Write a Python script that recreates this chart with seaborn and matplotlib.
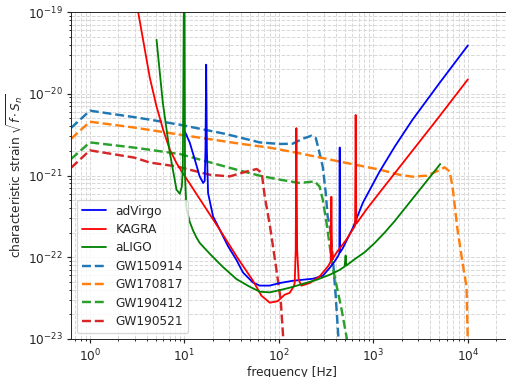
import numpy as np
import pandas as pd
import matplotlib
matplotlib.use("Agg")
import matplotlib.pyplot as plt
import seaborn as sns

# ---------------- data ----------------
advirgo_f = [10.1, 11.4, 12.9, 14.5, 15.8, 16.4, 16.7, 17.0, 17.3, 17.8, 20.1, 23.7, 29.0,
             35.5, 41.7, 53.2, 62.7, 80, 102, 141, 229, 292, 344, 389, 424, 436, 440, 444,
             456, 476, 607, 774, 1164, 1700, 2596, 5000, 10000]
advirgo_h = [3.46e-21, 2.52e-21, 1.56e-21, 9.75e-22, 8.1e-22, 8.6e-22, 2.0e-21, 2.27e-20,
             2.0e-21, 6.1e-22, 3.16e-22, 2.17e-22, 1.36e-22, 9.3e-23, 6.5e-23, 4.9e-23,
             4.5e-23, 4.5e-23, 4.84e-23, 5.16e-23, 5.46e-23, 5.94e-23, 7.4e-23, 8.9e-23,
             1.04e-22, 1.12e-22, 2.2e-21, 1.15e-22, 1.2e-22, 1.3e-22, 2.3e-22, 4.65e-22,
             1.12e-21, 2.3e-21, 4.82e-21, 1.35e-20, 3.9e-20]

kagra_f = [3.0, 3.24, 4.31, 5.07, 5.96, 7.01, 8.25, 9.69, 11.4, 14.5, 22.7, 37.0, 53.2,
           65.3, 80, 97, 115, 130, 143, 147, 150.6, 153, 156, 162, 173, 212, 270, 330,
           353, 359, 365, 405, 517, 633, 640, 649, 659, 841, 1164, 4808, 10000]
kagra_h = [1.6e-19, 1.0e-19, 1.56e-20, 7.0e-21, 3.63e-21, 2.07e-21, 1.42e-21, 1.05e-21,
           7.94e-22, 5.18e-22, 2.34e-22, 9.6e-23, 5.16e-23, 3.39e-23, 2.78e-23, 2.9e-23,
           3.48e-23, 3.67e-23, 4.37e-23, 4.84e-23, 1.23e-22, 3.8e-21, 1.23e-22, 5.3e-23,
           4.49e-23, 4.84e-23, 5.83e-23, 7.73e-23, 8.8e-23, 5.5e-22, 9.3e-23, 1.13e-22,
           1.64e-22, 2.38e-22, 2.45e-22, 5.5e-21, 2.57e-22, 3.82e-22, 6.2e-22, 5.0e-21,
           1.5e-20]

aligo_f = [5.07, 5.91, 7.01, 8.25, 8.94, 9.39, 9.62, 9.85, 9.95, 10.05, 10.15, 10.5, 11.4,
           12.4, 13.4, 14.5, 18.6, 25.4, 35.6, 49.1, 62.7, 80, 102, 130, 166, 251, 344,
           440, 496, 508, 516, 633, 807, 1030, 1313, 1676, 2414, 3477, 5096]
aligo_h = [4.58e-20, 7.76e-21, 1.9e-21, 6.7e-22, 5.98e-22, 7.3e-22, 1.18e-21, 1e-19, 1e-18,
           1e-19, 1.0e-21, 4.0e-22, 2.7e-22, 2.1e-22, 1.75e-22, 1.5e-22, 1.1e-22, 7.65e-23,
           5.4e-23, 4.36e-23, 3.79e-23, 3.72e-23, 3.96e-23, 4.24e-23, 4.6e-23, 5.3e-23,
           6.1e-23, 7.0e-23, 7.7e-23, 1.05e-22, 7.9e-23, 9.46e-23, 1.15e-22, 1.49e-22,
           2.0e-22, 2.76e-22, 4.68e-22, 7.93e-22, 1.38e-21]

gw150914_f = [0.631, 1.0, 2.99, 4.31, 8.94, 26.7, 62.7, 102, 140, 179, 222, 245, 264, 291,
              313, 328, 344, 370, 398, 428]
gw150914_h = [3.81e-21, 6.21e-21, 5.16e-21, 4.82e-21, 4.18e-21, 3.24e-21, 2.54e-21,
              2.43e-21, 2.45e-21, 2.82e-21, 3.07e-21, 2.9e-21, 2.07e-21, 1.28e-21, 6.17e-22,
              3.13e-22, 2.5e-22, 1.07e-22, 3.5e-23, 9.7e-24]

gw170817_f = [0.631, 1.0, 2.99, 8.94, 38.5, 80, 154, 440, 1164, 1892, 2596, 3650, 4656,
              5659, 6394, 6879, 7762, 8770, 9670, 10000]
gw170817_h = [2.8e-21, 4.55e-21, 3.85e-21, 3.16e-21, 2.45e-21, 2.19e-21, 1.9e-21, 1.48e-21,
              1.18e-21, 1.02e-21, 9.67e-22, 9.95e-22, 1.12e-21, 1.26e-21, 1.12e-21, 7.3e-22,
              2.17e-22, 8.6e-23, 4.36e-23, 8e-24]

gw190412_f = [0.631, 1.0, 2.99, 8.94, 38.5, 62.7, 102, 166, 239, 270, 291, 320, 370, 461,
              521, 535]
gw190412_h = [1.59e-21, 2.54e-21, 2.19e-21, 1.83e-21, 1.15e-21, 9.95e-22, 8.9e-22, 8.1e-22,
              8.47e-22, 7.3e-22, 5.06e-22, 2.57e-22, 7.66e-23, 2.28e-23, 1.04e-23, 8.5e-24]

gw190521_f = [0.631, 1.0, 2.99, 4.31, 8.31, 18.6, 30.2, 45.7, 58.2, 65.8, 70.8, 80, 92.5,
              104.5, 111, 113]
gw190521_h = [1.24e-21, 2.03e-21, 1.65e-21, 1.44e-21, 1.29e-21, 1.02e-21, 9.75e-22,
              1.12e-21, 1.2e-21, 1.08e-21, 5.55e-22, 2.5e-22, 8.1e-23, 3.0e-23, 1.04e-23,
              8e-24]

detectors = [("adVirgo", advirgo_f, advirgo_h, "blue"),
             ("KAGRA", kagra_f, kagra_h, "red"),
             ("aLIGO", aligo_f, aligo_h, "green")]
events = [("GW150914", gw150914_f, gw150914_h, "C0"),
          ("GW170817", gw170817_f, gw170817_h, "C1"),
          ("GW190412", gw190412_f, gw190412_h, "C2"),
          ("GW190521", gw190521_f, gw190521_h, "C3")]

# ---------------- figure ----------------
sns.set_style("ticks")
plt.rcParams["font.family"] = ["DejaVu Sans"]
DPI = 87
fig = plt.figure(figsize=(506 / DPI, 377 / DPI), dpi=DPI)
ax = fig.add_axes([71 / 506, 38 / 377, 442 / 506, 327 / 377])
ax.set_xscale("log")
ax.set_yscale("log")

for name, f, h, col in events:
    sns.lineplot(x=f, y=h, ax=ax, sort=False, estimator=None, color=col,
                 linestyle="--", linewidth=2, label=name)
for name, f, h, col in detectors:
    sns.lineplot(x=f, y=h, ax=ax, sort=False, estimator=None, color=col,
                 linewidth=1.5, label=name)

ax.set_xlim(0.631, 30000)
ax.set_ylim(1e-23, 1e-19)
ax.grid(True, which="both", linestyle="--", color="#d8d8d8", linewidth=0.8)
ax.set_axisbelow(True)
ax.set_xlabel("frequency [Hz]", fontsize=10, labelpad=1.5)
ax.set_ylabel(r"characteristic strain $\sqrt{f\cdot S_n}$", fontsize=10, labelpad=2)
ax.tick_params(which="major", labelsize=10, length=3.5, width=1)
ax.tick_params(which="minor", length=2, width=0.8)

handles, labels = ax.get_legend_handles_labels()
order = ["adVirgo", "KAGRA", "aLIGO", "GW150914", "GW170817", "GW190412", "GW190521"]
hd = dict(zip(labels, handles))
ax.legend([hd[k] for k in order], order, loc="lower left", fontsize=10,
          labelspacing=0.45)

fig.savefig("out.png", dpi=DPI)
